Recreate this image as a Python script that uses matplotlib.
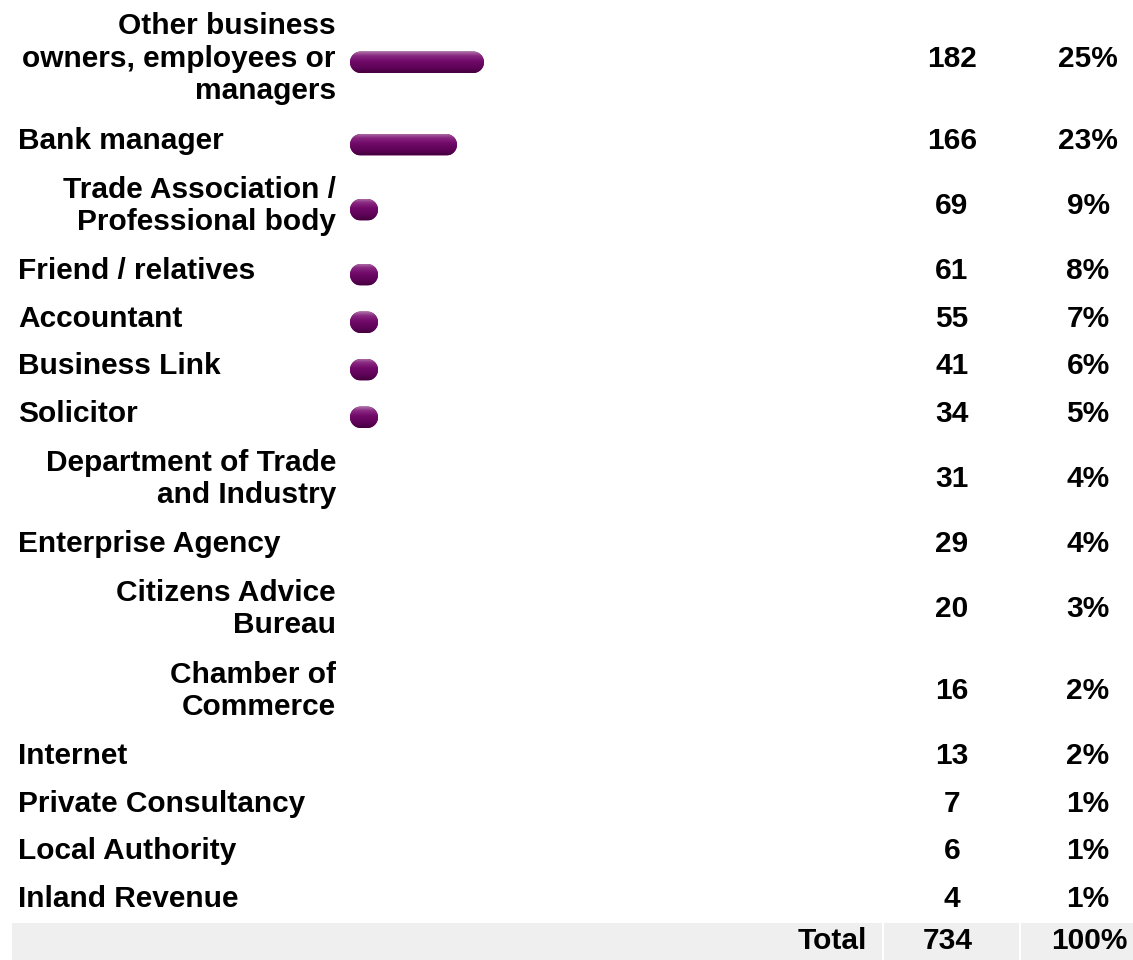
import numpy as np
import matplotlib
matplotlib.use("Agg")
import matplotlib.pyplot as plt
from matplotlib.patches import PathPatch, Rectangle
from matplotlib.path import Path
from matplotlib.colors import LinearSegmentedColormap

# ---- data -------------------------------------------------------------
sources = [
    "Other business\nowners, employees or\nmanagers",
    "Bank manager",
    "Trade Association /\nProfessional body",
    "Friend / relatives",
    "Accountant",
    "Business Link",
    "Solicitor",
    "Department of Trade\nand Industry",
    "Enterprise Agency",
    "Citizens Advice\nBureau",
    "Chamber of\nCommerce",
    "Internet",
    "Private Consultancy",
    "Local Authority",
    "Inland Revenue",
]
counts = [182, 166, 69, 61, 55, 41, 34, 31, 29, 20, 16, 13, 7, 6, 4]
shares = [25, 23, 9, 8, 7, 6, 5, 4, 4, 3, 2, 2, 1, 1, 1]
total_label = "Total"
total_count = 734
total_share = 100

# ---- figure / layout ----------------------------------------------------
W, H = 1133, 960
fig = plt.figure(figsize=(W / 100, H / 100), dpi=100)
fig.patch.set_facecolor("white")
FONT = dict(family="Liberation Sans", weight="bold", size=21.5, color="black")

ax = fig.add_axes([0, 0, 1, 1])
ax.set_xlim(0, W)
ax.set_ylim(H, 0)
ax.axis("off")

# row heights grow with the number of label lines
row_h = [47.5 + 35 * (s.count("\n")) for s in sources]
tops = np.concatenate([[0], np.cumsum(row_h)])
centers = tops[:-1] + np.array(row_h) / 2
total_top = tops[-1]

LABEL_LEFT, LABEL_RIGHT = 18, 336
COUNT_X, SHARE_X = 952, 1088

for src, cy, n, pct in zip(sources, centers, counts, shares):
    if "\n" in src:
        ax.text(LABEL_RIGHT, cy, src, ha="right", va="center",
                multialignment="right", linespacing=1.2, **FONT)
    else:
        ax.text(LABEL_LEFT, cy, src, ha="left", va="center", **FONT)
    ax.text(COUNT_X, cy, f"{n}", ha="center", va="center", **FONT)
    ax.text(SHARE_X, cy, f"{pct}%", ha="center", va="center", **FONT)

# total row
ax.add_patch(Rectangle((12, total_top), W - 12, H - total_top,
                       facecolor="#efefef", edgecolor="none", zorder=0))
for sx in (883, 1020):
    ax.add_patch(Rectangle((sx - 1, total_top), 2, H - total_top,
                           facecolor="white", edgecolor="none", zorder=1))
tcy = (total_top + H) / 2
ax.text(867, tcy, total_label, ha="right", va="center", zorder=2, **FONT)
ax.text(COUNT_X - 4, tcy, f"{total_count}", ha="center", va="center", zorder=2, **FONT)
ax.text(SHARE_X + 1, tcy, f"{total_share}%", ha="center", va="center", zorder=2, **FONT)

# ---- bars ---------------------------------------------------------------
BAR_LEFT_PX, BAR_RIGHT_PX = 350, 880
PX_PER_UNIT = 1.6875
base = 102.6
axb = fig.add_axes([BAR_LEFT_PX / W, 0, (BAR_RIGHT_PX - BAR_LEFT_PX) / W, 1])
axb.set_xlim(base, base + (BAR_RIGHT_PX - BAR_LEFT_PX) / PX_PER_UNIT)
axb.set_ylim(H, 0)
axb.axis("off")
axb.patch.set_alpha(0)

bar_h = 21.5
min_len = 28.0 / PX_PER_UNIT
ry = bar_h / 2
rx = ry / PX_PER_UNIT
cmap = LinearSegmentedColormap.from_list(
    "plum", [(0.0, "#b27aac"), (0.2, "#8a2a82"), (0.45, "#720a6a"),
             (0.8, "#5c0255"), (1.0, "#44003d")])
grad = np.linspace(0, 1, 64).reshape(-1, 1)


def stadium(x0, x1, yc):
    """Closed capsule outline from x0 to x1 in the bar axes' data units."""
    rxx = min(rx, (x1 - x0) / 2)
    t_r = np.linspace(-np.pi / 2, np.pi / 2, 40)
    t_l = np.linspace(np.pi / 2, 3 * np.pi / 2, 40)
    right = np.column_stack([x1 - rxx + rxx * np.cos(t_r), yc + ry * np.sin(t_r)])
    left = np.column_stack([x0 + rxx + rxx * np.cos(t_l), yc + ry * np.sin(t_l)])
    verts = np.vstack([right, left, right[:1]])
    codes = [Path.MOVETO] + [Path.LINETO] * (len(verts) - 2) + [Path.CLOSEPOLY]
    return Path(verts, codes)


for cy, n, pct in zip(centers, counts, shares):
    if pct < 5:
        continue
    width = max(n - base, min_len)
    yc = cy + 3.5
    pill = PathPatch(stadium(base, base + width, yc),
                     facecolor="#6a0662", edgecolor="none", zorder=1)
    axb.add_patch(pill)
    im = axb.imshow(grad, cmap=cmap, aspect="auto", interpolation="bilinear",
                    extent=(base, base + width, yc + ry, yc - ry), zorder=2)
    im.set_clip_path(pill)

axb.set_xlim(base, base + (BAR_RIGHT_PX - BAR_LEFT_PX) / PX_PER_UNIT)
axb.set_ylim(H, 0)

fig.savefig("out.png", dpi=100, facecolor="white")
